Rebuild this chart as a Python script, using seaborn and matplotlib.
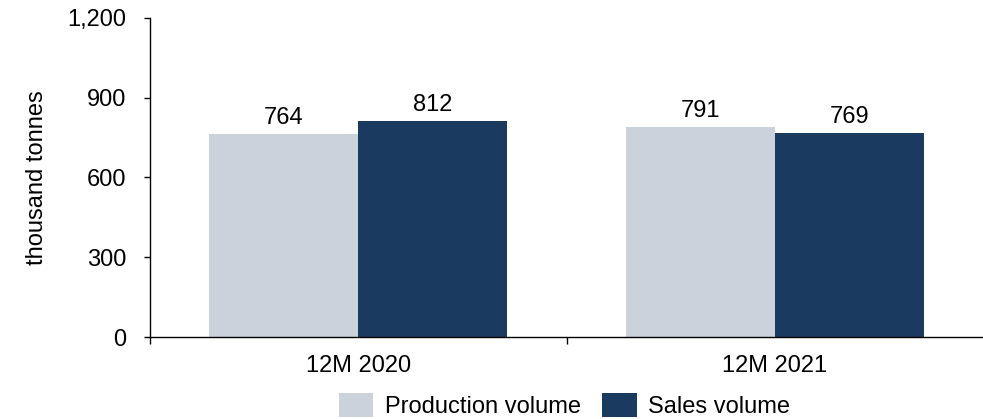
import matplotlib
matplotlib.use("Agg")
import matplotlib.pyplot as plt
import seaborn as sns
import pandas as pd
from matplotlib.ticker import FuncFormatter, FixedLocator
from matplotlib.patches import Patch

categories = ["12M 2020", "12M 2021"]
series_names = ["Production volume", "Sales volume"]
production = [764, 791]
sales = [812, 769]
y_ticks = [0, 300, 600, 900, 1200]

colors = ["#CBD2DC", "#1B3A5F"]

sns.set_theme(style="white")
plt.rcParams["font.family"] = ["Liberation Sans", "DejaVu Sans"]
plt.rcParams["text.color"] = "black"
plt.rcParams["axes.labelcolor"] = "black"
plt.rcParams["xtick.color"] = "black"
plt.rcParams["ytick.color"] = "black"

FS = 17

df = pd.DataFrame({
    "period": categories * 2,
    "series": [series_names[0]] * 2 + [series_names[1]] * 2,
    "value": production + sales,
})

fig = plt.figure(figsize=(9.83, 4.19), dpi=100)
ax = fig.add_axes([150 / 983, 1 - 337 / 419, 1 - 150 / 983, (337 - 18) / 419])

sns.barplot(data=df, x="period", y="value", hue="series", palette=colors,
            width=0.715, gap=0, saturation=1, ax=ax, legend=False,
            order=categories, hue_order=series_names, edgecolor="none")

for cont in ax.containers:
    ax.bar_label(cont, fmt="%d", padding=3.5, fontsize=FS, color="black")

ax.set_xlim(-0.5, 1.5)
ax.set_ylim(0, 1200)
ax.set_yticks(y_ticks)
ax.yaxis.set_major_formatter(FuncFormatter(lambda v, p: f"{int(v):,}"))
ax.tick_params(axis="y", which="major", direction="out", length=4, width=1,
               color="black", labelcolor="black", labelsize=FS, pad=13, left=True)
ax.tick_params(axis="x", which="major", length=0, labelsize=FS, labelcolor="black", pad=13)
ax.xaxis.set_minor_locator(FixedLocator([-0.5, 0.5]))
ax.tick_params(axis="x", which="minor", direction="out", length=5, width=1,
               color="black", bottom=True)
ax.set_xlabel("")
ax.set_ylabel("thousand tonnes", fontsize=FS, color="black")
ax.yaxis.set_label_coords(-0.122, 0.5)

for s in ["top", "right"]:
    ax.spines[s].set_visible(False)
for s in ["left", "bottom"]:
    ax.spines[s].set_color("black")
    ax.spines[s].set_linewidth(1)

handles = [Patch(facecolor=c, edgecolor="none") for c in colors]
fig.legend(handles, series_names, loc="upper left",
           bbox_to_anchor=(339 / 983, 1 - 393 / 419), ncol=2, frameon=False,
           fontsize=FS, handlelength=1.45, handleheight=1.2,
           handletextpad=0.5, columnspacing=0.9, borderpad=0, borderaxespad=0,
           labelcolor="black")

fig.savefig("out.png", dpi=100)
